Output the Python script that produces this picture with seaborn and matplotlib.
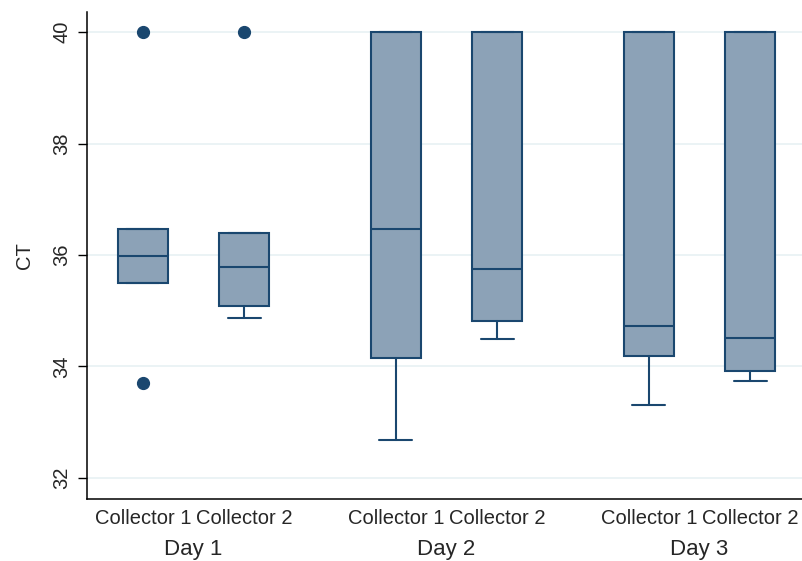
import matplotlib
matplotlib.use("Agg")
import matplotlib.pyplot as plt
import matplotlib.transforms as mtransforms
import seaborn as sns

# summary values (CT per day / collector)
days = ["Day 1", "Day 2", "Day 3"]
collectors = ["Collector 1", "Collector 2"]
medians = [35.99, 35.78, 36.47, 35.75, 34.72, 34.51]
q1s = [35.49, 35.08, 34.15, 34.82, 34.19, 33.92]
q3s = [36.46, 36.39, 40.0, 40.0, 40.0, 40.0]
whisk_lo = [35.49, 34.87, 32.68, 34.50, 33.30, 33.74]
whisk_hi = [36.46, 36.39, 40.0, 40.0, 40.0, 40.0]
outliers = [[40.0, 33.71], [40.0], [], [], [], []]
y_ticks = [32, 34, 36, 38, 40]

sns.set_style("white")
plt.rcParams["font.family"] = ["Liberation Sans", "DejaVu Sans"]

navy = "#1a476f"
fill = "#8ca2b7"

stats = []
for i in range(len(medians)):
    stats.append({"med": medians[i], "q1": q1s[i], "q3": q3s[i],
                  "whislo": whisk_lo[i], "whishi": whisk_hi[i],
                  "fliers": outliers[i]})

positions = []
for d in range(len(days)):
    for c in range(len(collectors)):
        positions.append(d + (c - 0.5) * 0.4)

fig = plt.figure(figsize=(8.02, 5.61), dpi=100)
ax = fig.add_axes([0.1085, 0.1105, 0.8915, 0.868])

for y in y_ticks:
    ax.axhline(y, color="#e8f1f4", lw=1.2, zorder=0)

ax.bxp(stats, positions=positions, widths=0.198, capwidths=0.13,
       patch_artist=True, showfliers=True,
       boxprops=dict(facecolor=fill, edgecolor=navy, linewidth=1.5),
       medianprops=dict(color=navy, linewidth=1.5),
       whiskerprops=dict(color=navy, linewidth=1.5),
       capprops=dict(color=navy, linewidth=1.5),
       flierprops=dict(marker="o", markerfacecolor=navy, markeredgecolor=navy,
                       markersize=8.5))

ax.set_xlim(-0.421, 2.405)
ax.set_ylim(31.62, 40.36)
ax.set_yticks(y_ticks)
ax.set_yticklabels([str(t) for t in y_ticks], rotation=90, va="center",
                   fontsize=14.5)
ax.tick_params(axis="y", length=6.5, width=1, color="black", pad=5, left=True)
ax.set_xticks(positions)
ax.set_xticklabels(collectors * len(days), fontsize=14.5)
ax.tick_params(axis="x", length=0, pad=7)
ax.set_ylabel("CT", fontsize=14.5, labelpad=13)

trans = mtransforms.blended_transform_factory(ax.transData, fig.transFigure)
for d, name in enumerate(days):
    ax.text(d, 1 - 550 / 561, name, transform=trans, ha="center", va="center",
            fontsize=16)

sns.despine(ax=ax)
ax.spines["left"].set_color("black")
ax.spines["bottom"].set_color("black")
ax.spines["left"].set_linewidth(1.1)
ax.spines["bottom"].set_linewidth(1.1)

fig.savefig("out.png", dpi=100)
